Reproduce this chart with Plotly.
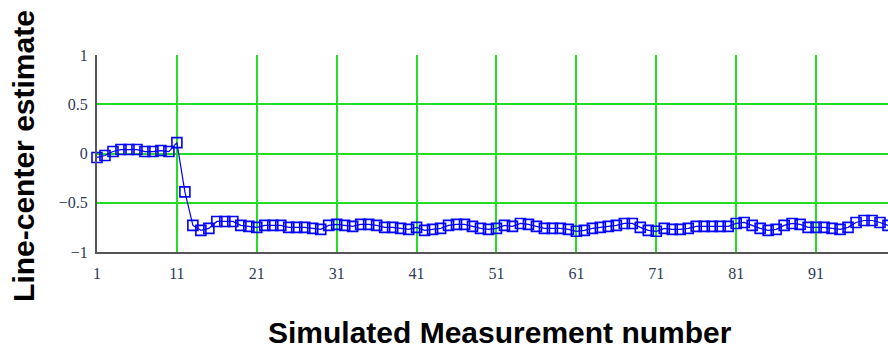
import plotly.graph_objects as go

measurement = list(range(1, 101))
estimate = [
    -0.04, -0.02, 0.02, 0.04, 0.04, 0.04, 0.02, 0.02, 0.03, 0.02,
    0.11, -0.39, -0.73, -0.78, -0.76, -0.69, -0.69, -0.69, -0.73, -0.74,
    -0.75, -0.73, -0.73, -0.73, -0.75, -0.75, -0.75, -0.76, -0.77, -0.73,
    -0.72, -0.73, -0.74, -0.72, -0.72, -0.73, -0.75, -0.75, -0.76, -0.77,
    -0.75, -0.78, -0.77, -0.76, -0.73, -0.72, -0.72, -0.74, -0.76, -0.77,
    -0.76, -0.73, -0.74, -0.71, -0.72, -0.74, -0.76, -0.76, -0.76, -0.77,
    -0.79, -0.78, -0.76, -0.75, -0.74, -0.73, -0.71, -0.71, -0.75, -0.78,
    -0.79, -0.76, -0.77, -0.77, -0.76, -0.74, -0.74, -0.74, -0.74, -0.74,
    -0.71, -0.70, -0.73, -0.76, -0.78, -0.77, -0.73, -0.71, -0.72, -0.75,
    -0.75, -0.75, -0.76, -0.77, -0.75, -0.70, -0.68, -0.68, -0.70, -0.73,
]
x_ticks = [1, 11, 21, 31, 41, 51, 61, 71, 81, 91]
y_ticks = [-1, -0.5, 0, 0.5, 1]
y_tick_labels = ["\u22121", "\u22120.5", "0", "0.5", "1"]

fig = go.Figure()
fig.add_trace(go.Scatter(
    x=measurement, y=estimate, mode="lines+markers",
    line=dict(color="#0000ff", width=1.2),
    marker=dict(symbol="square-open", size=10, color="#0000ff", line=dict(width=1.6)),
    cliponaxis=False, showlegend=False,
))

tick_font = dict(family="Liberation Serif", size=16, color="#2e3a55")
fig.update_layout(
    width=888, height=350,
    margin=dict(l=97, r=0, t=55, b=98),
    paper_bgcolor="white", plot_bgcolor="white",
    xaxis=dict(range=[1, 100], tickvals=x_ticks, ticktext=[str(v) for v in x_ticks],
               showgrid=True, gridcolor="#22dd22", gridwidth=2,
               showline=True, linecolor="#555555", linewidth=2,
               zeroline=False, ticks="", tickfont=tick_font, ticklabelstandoff=6),
    yaxis=dict(range=[-1, 1], tickvals=y_ticks, ticktext=y_tick_labels,
               showgrid=True, gridcolor="#22dd22", gridwidth=2,
               showline=True, linecolor="#555555", linewidth=2,
               zeroline=False, ticks="", tickfont=tick_font, ticklabelstandoff=4),
    annotations=[
        dict(text="<b>Simulated Measurement number</b>", xref="paper", yref="paper",
             x=0.51, y=-0.41, xanchor="center", yanchor="middle", showarrow=False,
             font=dict(family="Liberation Sans", size=30, color="black")),
        dict(text="<b>Line-center estimate</b>", xref="paper", yref="paper",
             x=-0.093, y=0.49, xanchor="center", yanchor="middle", showarrow=False,
             textangle=-90, font=dict(family="Liberation Sans", size=30, color="black")),
    ],
)

fig.write_html("out.html")
